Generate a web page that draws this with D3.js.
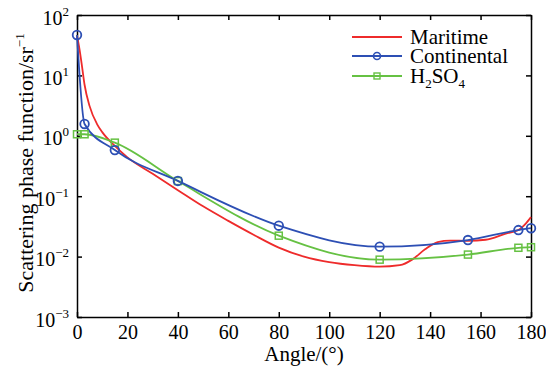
<!DOCTYPE html>
<html lang="en">
<head>
<meta charset="utf-8">
<style>
  body { margin: 0; background: white; }
  svg { background: white; font-family: "Liberation Serif", "Times New Roman", serif; }
  .axis path, .axis line { stroke: black; stroke-width: 1.5px; }
  .curve { fill: none; stroke-width: 1.8px; }
</style>
</head>
<body>
<svg width="546" height="370"></svg>
<script src="https://d3js.org/d3.v7.min.js"></script>
<script>
// Maritime: smooth curve (no markers)
const angleMaritime = [0, 1, 2, 3, 5, 8, 10, 15, 20, 30, 40, 50, 60, 70, 80, 90, 100, 110, 120, 128, 133, 138, 143, 148, 155, 162, 170, 175, 178, 180];
const maritime = [46, 27, 14, 7, 3.1, 1.55, 1.15, 0.68, 0.44, 0.235, 0.126, 0.068, 0.039, 0.023, 0.0141, 0.0100, 0.0081, 0.0072, 0.0068, 0.0072, 0.009, 0.0132, 0.0174, 0.0184, 0.0182, 0.019, 0.024, 0.0275, 0.0355, 0.045];

// Continental and H2SO4: marker points
const angleMarked = [0, 3, 15, 40, 80, 120, 155, 175, 180];
const continental = [46.7, 1.57, 0.58, 0.179, 0.0325, 0.0146, 0.0188, 0.0275, 0.0295];
const h2so4 = [1.06, 1.06, 0.77, 0.178, 0.0222, 0.0089, 0.0108, 0.014, 0.0143];

const xTicks = [0, 20, 40, 60, 80, 100, 120, 140, 160, 180];
const yTicks = [1e-3, 1e-2, 1e-1, 1, 10, 100];
const yExponents = ["\u22123", "\u22122", "\u22121", "0", "1", "2"];

const colors = { maritime: "#ee2b2b", continental: "#2d4fb4", h2so4: "#66c143" };
const serif = "'Liberation Serif', 'Times New Roman', serif";

const svg = d3.select("svg");
const L = 77, R = 531, T = 15, B = 317;

const x = d3.scaleLinear().domain([0, 180]).range([L, R]);
const y = d3.scaleLog().domain([1e-3, 1e2]).range([B, T]);

// axes, ticks pointing inward on all four sides
svg.append("g").attr("class", "axis")
  .attr("transform", `translate(0,${B})`)
  .call(d3.axisBottom(x).tickValues(xTicks).tickSizeInner(-5).tickSizeOuter(0))
  .call(g => g.selectAll("text").attr("dy", "0").attr("y", 22)
    .attr("font-family", serif).attr("font-size", 20).attr("fill", "black"));

svg.append("g").attr("class", "axis")
  .attr("transform", `translate(0,${T})`)
  .call(d3.axisTop(x).tickValues(xTicks).tickSizeInner(-5).tickSizeOuter(0).tickFormat(""));

const yAxis = svg.append("g").attr("class", "axis")
  .attr("transform", `translate(${L},0)`)
  .call(d3.axisLeft(y).tickValues(yTicks).tickSizeInner(-5).tickSizeOuter(0).tickFormat(""));

yAxis.selectAll(".tick").append("text")
  .attr("x", -8)
  .attr("y", 9)
  .attr("text-anchor", "end")
  .attr("font-family", serif)
  .attr("font-size", 20)
  .attr("fill", "black")
  .each(function(d, i) {
    const t = d3.select(this);
    t.append("tspan").text("10");
    t.append("tspan").attr("dy", -9).attr("font-size", 13).text(yExponents[i]);
  });

svg.append("g").attr("class", "axis")
  .attr("transform", `translate(${R},0)`)
  .call(d3.axisRight(y).tickValues(yTicks).tickSizeInner(-5).tickSizeOuter(0).tickFormat(""));

// curves in log space
const line = d3.line()
  .x(d => x(d[0]))
  .y(d => y(d[1]))
  .curve(d3.curveMonotoneX);

svg.append("path").attr("class", "curve")
  .attr("stroke", colors.maritime)
  .attr("d", line(angleMaritime.map((a, i) => [a, maritime[i]])));

svg.append("path").attr("class", "curve")
  .attr("stroke", colors.h2so4)
  .attr("d", line(angleMarked.map((a, i) => [a, h2so4[i]])));

svg.append("path").attr("class", "curve")
  .attr("stroke", colors.continental)
  .attr("d", line(angleMarked.map((a, i) => [a, continental[i]])));

svg.append("g").selectAll("rect")
  .data(angleMarked.map((a, i) => [a, h2so4[i]]))
  .join("rect")
  .attr("x", d => x(d[0]) - 3.5)
  .attr("y", d => y(d[1]) - 3.5)
  .attr("width", 7).attr("height", 7)
  .attr("fill", "none").attr("stroke", colors.h2so4).attr("stroke-width", 1.5);

svg.append("g").selectAll("circle")
  .data(angleMarked.map((a, i) => [a, continental[i]]))
  .join("circle")
  .attr("cx", d => x(d[0]))
  .attr("cy", d => y(d[1]))
  .attr("r", 4.3)
  .attr("fill", "none").attr("stroke", colors.continental).attr("stroke-width", 1.8);

// axis labels
svg.append("text")
  .attr("x", 304).attr("y", 361)
  .attr("text-anchor", "middle")
  .attr("font-size", 21)
  .text("Angle/(\u00b0)");

const yl = svg.append("text")
  .attr("transform", "translate(33,163) rotate(-90)")
  .attr("text-anchor", "middle")
  .attr("font-size", 22);
yl.append("tspan").text("Scattering phase function/sr");
yl.append("tspan").attr("dy", -9).attr("font-size", 13).text("\u22121");

// legend
const legend = svg.append("g");
const items = [
  { name: "Maritime", color: colors.maritime, marker: null, y: 37 },
  { name: "Continental", color: colors.continental, marker: "circle", y: 56 },
  { name: "H2SO4", color: colors.h2so4, marker: "square", y: 76 }
];
items.forEach(it => {
  legend.append("line")
    .attr("x1", 352).attr("x2", 402).attr("y1", it.y).attr("y2", it.y)
    .attr("stroke", it.color).attr("stroke-width", 1.8);
  if (it.marker === "circle") {
    legend.append("circle").attr("cx", 377).attr("cy", it.y).attr("r", 3.5)
      .attr("fill", "none").attr("stroke", it.color).attr("stroke-width", 1.6);
  } else if (it.marker === "square") {
    legend.append("rect").attr("x", 374).attr("y", it.y - 3).attr("width", 6).attr("height", 6)
      .attr("fill", "none").attr("stroke", it.color).attr("stroke-width", 1.4);
  }
  const t = legend.append("text").attr("x", 410).attr("y", it.y + 7).attr("font-size", 21);
  if (it.name === "H2SO4") {
    t.append("tspan").text("H");
    t.append("tspan").attr("font-size", 13).attr("dy", 5).text("2");
    t.append("tspan").attr("dy", -5).text("SO");
    t.append("tspan").attr("font-size", 13).attr("dy", 5).text("4");
  } else {
    t.text(it.name);
  }
});
</script>
</body>
</html>
